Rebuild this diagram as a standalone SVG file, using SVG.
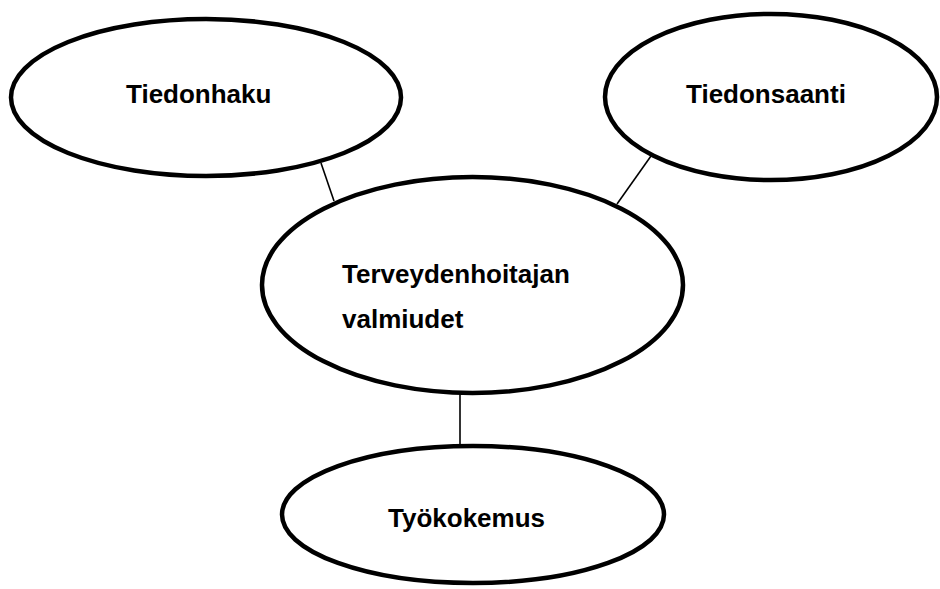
<svg xmlns="http://www.w3.org/2000/svg" width="940" height="589" viewBox="0 0 940 589">
<style>
.node ellipse{fill:#fff;stroke:#000;stroke-width:4.5}
.node text{font-family:"Liberation Sans",Arial,sans-serif;font-weight:bold;font-size:26px;fill:#000}
#connectors line{stroke:#000;stroke-width:1.6}
</style>
<rect width="940" height="589" fill="#fff"/>
<g id="connectors">
<line x1="321" y1="163" x2="334" y2="201"/>
<line x1="651" y1="156" x2="617" y2="204"/>
<line x1="460" y1="393" x2="460" y2="446"/>
</g>
<g id="tiedonhaku" class="node">
<ellipse cx="206" cy="97.5" rx="195" ry="78.5"/>
<text x="126" y="103">Tiedonhaku</text>
</g>
<g id="tiedonsaanti" class="node">
<ellipse cx="771" cy="97" rx="166" ry="83"/>
<text x="686" y="103">Tiedonsaanti</text>
</g>
<g id="valmiudet" class="node">
<ellipse cx="472.5" cy="285" rx="210.5" ry="108"/>
<text x="342" y="283">Terveydenhoitajan</text>
<text x="342" y="328">valmiudet</text>
</g>
<g id="tyokokemus" class="node">
<ellipse cx="473" cy="514.5" rx="191" ry="68.5"/>
<text x="388" y="527">Työkokemus</text>
</g>
</svg>
